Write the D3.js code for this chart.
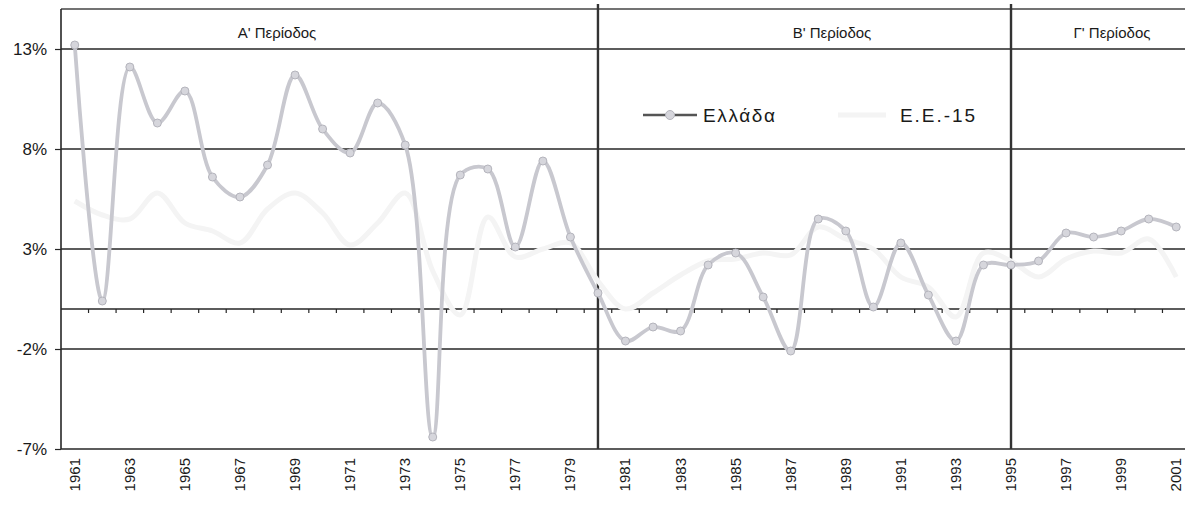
<!DOCTYPE html>
<html><head><meta charset="utf-8">
<script src="https://cdn.jsdelivr.net/npm/d3@7"></script>
<style>body{margin:0;background:#fff}svg{display:block}text{font-family:"Liberation Sans",Arial,sans-serif;fill:#1a1a1a}</style>
</head><body>
<svg id="c" width="1185" height="505"></svg>
<script>
const years = [1961,1962,1963,1964,1965,1966,1967,1968,1969,1970,1971,1972,1973,1974,1975,1976,1977,1978,1979,1980,
  1981,1982,1983,1984,1985,1986,1987,1988,1989,1990,1991,1992,1993,1994,1995,1996,1997,1998,1999,2000,2001];
const greece = [13.2,0.4,12.1,9.3,10.9,6.6,5.6,7.2,11.7,9.0,7.8,10.3,8.2,-6.4,6.7,7.0,3.1,7.4,3.6,0.8,
  -1.6,-0.9,-1.1,2.2,2.8,0.6,-2.1,4.5,3.9,0.1,3.3,0.7,-1.6,2.2,2.2,2.4,3.8,3.6,3.9,4.5,4.1];
const eu15 = [5.4,4.7,4.5,5.8,4.3,3.9,3.3,5.0,5.8,4.8,3.2,4.3,5.8,1.9,-0.3,4.6,2.6,3.0,3.3,1.4,
  0.0,0.8,1.7,2.4,2.5,2.8,2.7,4.1,3.5,3.0,1.6,1.1,-0.4,2.8,2.4,1.6,2.5,2.9,2.8,3.5,1.6];
const yTicks = [-7,-2,3,8,13];
const yTickLabels = ["-7%","-2%","3%","8%","13%"];
const xLabelYears = [1961,1963,1965,1967,1969,1971,1973,1975,1977,1979,1981,1983,1985,1987,1989,1991,1993,1995,1997,1999,2001];
const periodBreaks = [1980,1995];
const periodLabels = ["Α' Περίοδος","Β' Περίοδος","Γ' Περίοδος"];
const seriesNames = ["Ελλάδα","E.E.-15"];

const W = 1185, L = 61;
const svg = d3.select("#c");
const x = d3.scaleBand().domain(years).range([L, 1190]);
const xc = d => x(d) + x.bandwidth() / 2;
const y = d3.scaleLinear().domain([-7, 15]).range([449, 9]);
const dark = "#262626";

// horizontal gridlines
svg.append("g").selectAll("line").data(yTicks).join("line")
  .attr("x1", L).attr("x2", W).attr("y1", d => y(d)).attr("y2", d => y(d))
  .attr("stroke", dark).attr("stroke-width", 1.4);
// top border
svg.append("line").attr("x1", L).attr("x2", W).attr("y1", y(15)).attr("y2", y(15))
  .attr("stroke", "#444").attr("stroke-width", 1.6);

// zero axis with ticks
const xAxis = d3.axisBottom(x).tickSize(4).tickFormat("");
const gx = svg.append("g").attr("transform", `translate(0,${y(0)})`).call(xAxis);
gx.select(".domain").attr("stroke", dark).attr("stroke-width", 1.4).attr("d", `M${L},0H${W}`);
gx.selectAll(".tick").attr("transform", d => `translate(${x(d)},0)`);
gx.selectAll(".tick line").attr("stroke", dark).attr("stroke-width", 1.2);
gx.selectAll(".tick").filter(d => d === 1961).remove();

// y axis
const yAxis = d3.axisLeft(y).tickValues(yTicks).tickSize(6)
  .tickFormat((d, i) => yTickLabels[i]);
const gy = svg.append("g").attr("transform", `translate(${L},0)`).call(yAxis);
gy.select(".domain").attr("stroke", dark).attr("stroke-width", 1.6).attr("d", `M0,${y(15)}V${y(-7)}`);
gy.selectAll(".tick line").attr("stroke", dark).attr("stroke-width", 1.2);
gy.selectAll(".tick text").attr("x", -14).attr("font-size", 17).attr("fill", "#1a1a1a")
  .style("font-family", "'Liberation Sans',Arial,sans-serif");

// x labels (rotated)
svg.append("g").selectAll("text").data(xLabelYears).join("text")
  .attr("transform", d => `translate(${xc(d)},458) rotate(-90)`)
  .attr("text-anchor", "end").attr("dy", "0.33em").attr("font-size", 15)
  .text(d => d);

// period separators
svg.append("g").selectAll("line").data(periodBreaks).join("line")
  .attr("x1", d => xc(d)).attr("x2", d => xc(d)).attr("y1", 4).attr("y2", y(-7))
  .attr("stroke", "#333").attr("stroke-width", 2.4);

// EU-15 line (very faint)
const line = d3.line().curve(d3.curveCatmullRom.alpha(0.5));
const euPts = years.map((d, i) => [xc(d), y(eu15[i])]);
svg.append("path").attr("d", line(euPts)).attr("fill", "none")
  .attr("stroke", "#f4f4f4").attr("stroke-width", 5);

// Greece line
const grPts = years.map((d, i) => [xc(d), y(greece[i])]);
svg.append("path").attr("d", line(grPts)).attr("fill", "none")
  .attr("stroke", "#c8c8cf").attr("stroke-width", 3.8);
svg.append("g").selectAll("circle").data(grPts).join("circle")
  .attr("cx", d => d[0]).attr("cy", d => d[1]).attr("r", 4)
  .attr("fill", "#d6d6dc").attr("stroke", "#b4b4bc").attr("stroke-width", 1);

// period labels
const periodX = [277, 832, 1112];
svg.append("g").selectAll("text").data(periodLabels).join("text")
  .attr("x", (d, i) => periodX[i]).attr("y", 38).attr("text-anchor", "middle")
  .attr("font-size", 15).text(d => d);

// legend
const lg = svg.append("g");
lg.append("line").attr("x1", 643).attr("x2", 697).attr("y1", 115).attr("y2", 115)
  .attr("stroke", "#555").attr("stroke-width", 2.4);
lg.append("circle").attr("cx", 670).attr("cy", 115).attr("r", 4.5)
  .attr("fill", "#d6d6dc").attr("stroke", "#b4b4bc");
lg.append("text").attr("x", 703).attr("y", 122).attr("font-size", 19)
  .attr("textLength", 72).attr("lengthAdjust", "spacing").text(seriesNames[0]);
lg.append("line").attr("x1", 838).attr("x2", 886).attr("y1", 115).attr("y2", 115)
  .attr("stroke", "#f4f4f4").attr("stroke-width", 5);
lg.append("text").attr("x", 900).attr("y", 122).attr("font-size", 19)
  .attr("textLength", 75).attr("lengthAdjust", "spacing").text(seriesNames[1]);
</script>
</body></html>
